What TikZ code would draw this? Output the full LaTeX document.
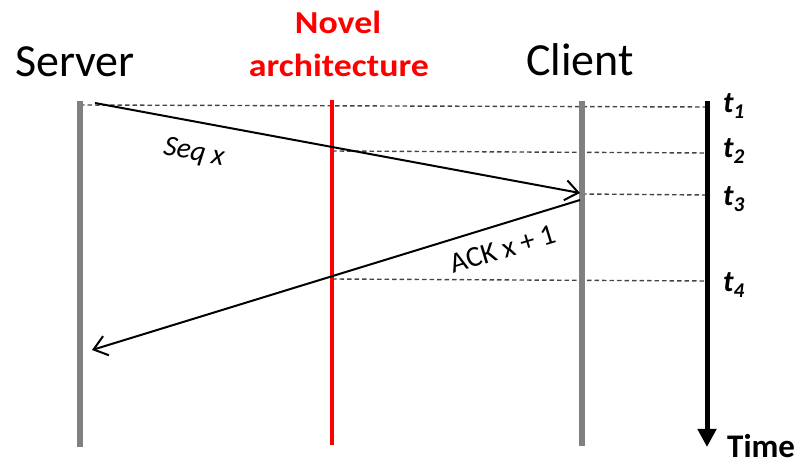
\documentclass[tikz,border=0pt]{standalone}
\usepackage{fontspec}
\setmainfont{Carlito}
\usetikzlibrary{arrows.meta}
\definecolor{lifegray}{HTML}{808080}
\definecolor{novelred}{HTML}{FF0000}
\definecolor{dashgray}{HTML}{444444}
\tikzset{
  lifeline/.style={draw=lifegray, line width=5.5pt},
  novelline/.style={draw=novelred, line width=3.5pt},
  timeline/.style={draw=black, line width=5pt, -{Triangle[length=18pt,width=18pt]}},
  guide/.style={draw=dashgray, line width=1.4pt, dash pattern=on 4.5pt off 3pt},
  msg/.style={draw=black, line width=2pt, -{Straight Barb[length=13pt,width=20pt,line width=2pt]}},
  header/.style={font=\fontsize{46}{50}\selectfont, anchor=base},
  novelhead/.style={font=\fontsize{32}{34}\selectfont\bfseries, text=novelred, anchor=base, xscale=1.12},
  msglabel/.style={font=\fontsize{29}{31}\selectfont},
  tick/.style={font=\fontsize{30}{32}\selectfont\bfseries\itshape, anchor=base west, inner sep=0pt},
}
\begin{document}
\begin{tikzpicture}[x=1pt,y=-1pt]
  \useasboundingbox (0,0) rectangle (804,462);

  % lifeline end points
  \coordinate (srvTop) at (80,101);
  \coordinate (srvBot) at (80,447);
  \coordinate (novTop) at (332,100);
  \coordinate (novBot) at (332,445);
  \coordinate (cliTop) at (582,101);
  \coordinate (cliBot) at (582,446);
  \coordinate (timeTop) at (707,101);
  \coordinate (timeBot) at (707,447);

  % message end points
  \coordinate (seqStart) at (95,103);
  \coordinate (seqEnd) at (580,193);
  \coordinate (ackStart) at (580,200);
  \coordinate (ackEnd) at (92,350);

  % guide line end points
  \coordinate (g1a) at (80,105);   \coordinate (g1b) at (707,107);
  \coordinate (g2a) at (332,151);  \coordinate (g2b) at (707,153);
  \coordinate (g3a) at (582,194);  \coordinate (g3b) at (707,195);
  \coordinate (g4a) at (332,279);  \coordinate (g4b) at (707,281);

  % dashed time guides
  \draw[guide] (g1a) -- (g1b);
  \draw[guide] (g2a) -- (g2b);
  \draw[guide] (g3a) -- (g3b);
  \draw[guide] (g4a) -- (g4b);

  % lifelines
  \draw[lifeline] (srvTop) -- (srvBot);
  \draw[novelline] (novTop) -- (novBot);
  \draw[lifeline] (cliTop) -- (cliBot);
  \draw[timeline] (timeTop) -- (timeBot);

  % messages
  \draw[msg] (seqStart) -- (seqEnd);
  \draw[msg] (ackStart) -- (ackEnd);

  % headers
  \node[header] (server) at (75,77) {Server};
  \node[header] (client) at (580,76) {Client};
  \node[novelhead] (novel) at (338,34) {Novel};
  \node[novelhead] (arch) at (339,77) {architecture};

  % message labels
  \node[msglabel, rotate=-10.5] (seqlbl) at (194,153) {\itshape Seq x};
  \node[msglabel, rotate=17] (acklbl) at (503,249) {ACK x + 1};

  % time labels
  \node[tick] (t1) at (723,113) {t\textsubscript{1}};
  \node[tick] (t2) at (723,158) {t\textsubscript{2}};
  \node[tick] (t3) at (723,206) {t\textsubscript{3}};
  \node[tick] (t4) at (723,292) {t\textsubscript{4}};
  \node[font=\fontsize{33}{35}\selectfont\bfseries, anchor=base west, inner sep=0pt] (time) at (727,457) {Time};
\end{tikzpicture}
\end{document}
